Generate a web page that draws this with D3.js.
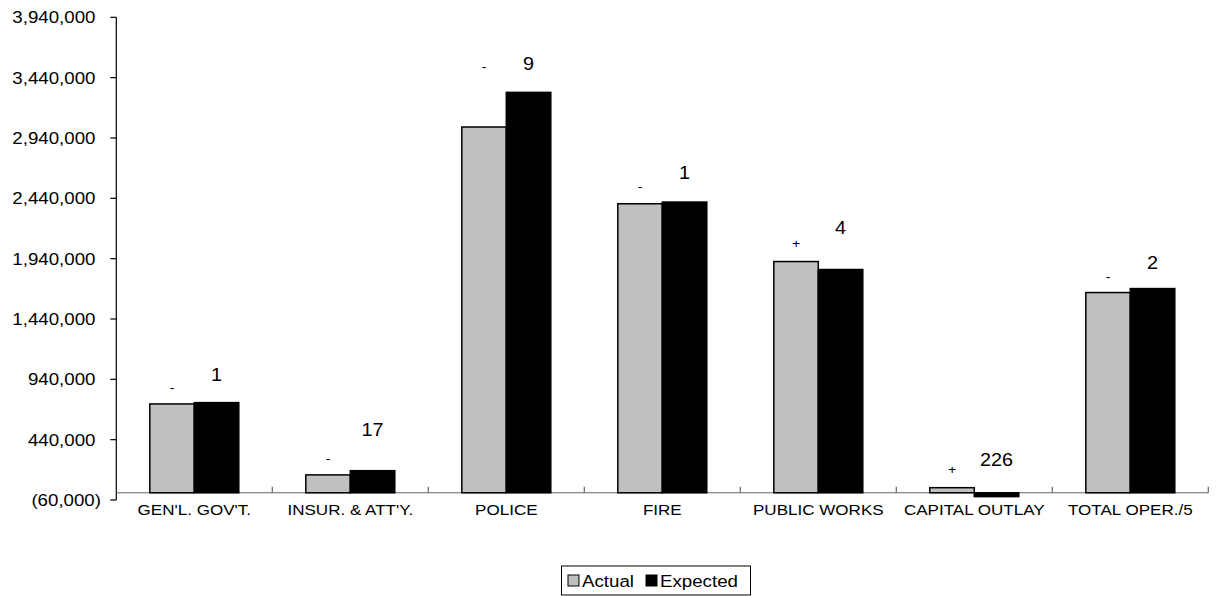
<!DOCTYPE html>
<html>
<head>
<meta charset="utf-8">
<script src="https://cdn.jsdelivr.net/npm/d3@7"></script>
<style>
  html, body { margin: 0; padding: 0; background: #fff; }
  svg { display: block; font-family: "Liberation Sans", Arial, sans-serif; }
</style>
</head>
<body>
<svg id="chart" width="1220" height="596"></svg>
<script>
(function () {
// ---- data ----
const categories = ["GEN'L. GOV'T.", "INSUR. & ATT'Y.", "POLICE", "FIRE", "PUBLIC WORKS", "CAPITAL OUTLAY", "TOTAL OPER./5"];
const seriesNames = ["Actual", "Expected"];
const actual   = [736000, 148000, 3031000, 2395000, 1916000, 42000, 1659000];
const expected = [747000, 183000, 3318000, 2409000, 1850000, -32000, 1692000];
const signLabels = ["-", "-", "-", "-", "+", "+", "-"];
const signLabelValues = [871000, 280000, 3533000, 2538000, 2063000, 189000, 1792000];
const pctLabels = ["1", "17", "9", "1", "4", "226", "2"];
const pctLabelValues = [981000, 521000, 3558000, 2652000, 2196000, 272000, 1906000];
const yTicks = [-60000, 440000, 940000, 1440000, 1940000, 2440000, 2940000, 3440000, 3940000];

// ---- layout ----
const svg = d3.select("#chart");
const mLeft = 116.3, mRight = 1208.3, mTop = 17.3, mBottom = 500;
const SX = 1.1; // horizontal stretch of text

const x = d3.scaleBand().domain(categories).range([mLeft, mRight]).paddingInner(0).paddingOuter(0);
const y = d3.scaleLinear().domain([yTicks[0], yTicks[yTicks.length - 1]]).range([mBottom, mTop]);
const groupW = 89;
const x1 = d3.scaleBand().domain(seriesNames).range([-groupW / 2, groupW / 2]).padding(0);
const colors = { Actual: "#c0c0c0", Expected: "#000000" };

function stext(g, tx, ty, str, size, anchor) {
  return g.append("text")
    .attr("transform", `translate(${tx},${ty}) scale(${SX},1)`)
    .attr("text-anchor", anchor)
    .attr("font-size", size)
    .attr("fill", "#000")
    .text(str);
}

const fmt = v => v < 0 ? "(" + d3.format(",")(-v) + ")" : d3.format(",")(v);

// y axis
const yg = svg.append("g");
yg.append("line").attr("x1", mLeft).attr("x2", mLeft).attr("y1", y(yTicks[yTicks.length - 1])).attr("y2", y(yTicks[0]))
  .attr("stroke", "#000").attr("stroke-width", 1.2);
yTicks.forEach(t => {
  yg.append("line").attr("x1", mLeft - 6).attr("x2", mLeft).attr("y1", y(t)).attr("y2", y(t))
    .attr("stroke", "#000").attr("stroke-width", 1.2);
  stext(yg, t < 0 ? 101 : 95.5, y(t) + 6, fmt(t), 17, "end");
});

// category axis at zero
const xg = svg.append("g");
xg.append("line").attr("x1", mLeft).attr("x2", mRight).attr("y1", y(0)).attr("y2", y(0))
  .attr("stroke", "#666").attr("stroke-width", 1.2);
categories.forEach((c, i) => {
  const bx = x(c) + x.bandwidth();
  xg.append("line").attr("x1", bx).attr("x2", bx).attr("y1", y(0) - 6).attr("y2", y(0))
    .attr("stroke", "#666").attr("stroke-width", 1.2);
  stext(xg, x(c) + x.bandwidth() / 2, 515, c, 15.5, "middle");
});

// bars
const data = categories.map((c, i) => ({ c, vals: [{ s: "Actual", v: actual[i] }, { s: "Expected", v: expected[i] }] }));
const groups = svg.append("g").selectAll("g").data(data).join("g")
  .attr("transform", d => `translate(${x(d.c) + x.bandwidth() / 2},0)`);
groups.selectAll("rect").data(d => d.vals).join("rect")
  .attr("x", d => x1(d.s))
  .attr("width", x1.bandwidth())
  .attr("y", d => Math.min(y(d.v), y(0)))
  .attr("height", d => Math.abs(y(d.v) - y(0)))
  .attr("fill", d => colors[d.s])
  .attr("stroke", "#000").attr("stroke-width", 1.5);

// annotations
const ag = svg.append("g");
categories.forEach((c, i) => {
  const cx = x(c) + x.bandwidth() / 2;
  stext(ag, cx + x1("Actual") + x1.bandwidth() / 2, y(signLabelValues[i]) + 4.5, signLabels[i], 13, "middle");
  stext(ag, cx + x1("Expected") + x1.bandwidth() / 2, y(pctLabelValues[i]) + 6.5, pctLabels[i], 18, "middle");
});

// legend
const lg = svg.append("g");
lg.append("rect").attr("x", 561.5).attr("y", 566).attr("width", 189).attr("height", 29)
  .attr("fill", "#fff").attr("stroke", "#000").attr("stroke-width", 1);
const legendItems = [{ s: "Actual", sx: 568, tx: 582 }, { s: "Expected", sx: 646, tx: 660 }];
legendItems.forEach(it => {
  lg.append("rect").attr("x", it.sx).attr("y", 575).attr("width", 11).attr("height", 11)
    .attr("fill", colors[it.s]).attr("stroke", "#000").attr("stroke-width", 1);
  stext(lg, it.tx, 587, it.s, 17, "start");
});
})();
</script>
</body>
</html>
